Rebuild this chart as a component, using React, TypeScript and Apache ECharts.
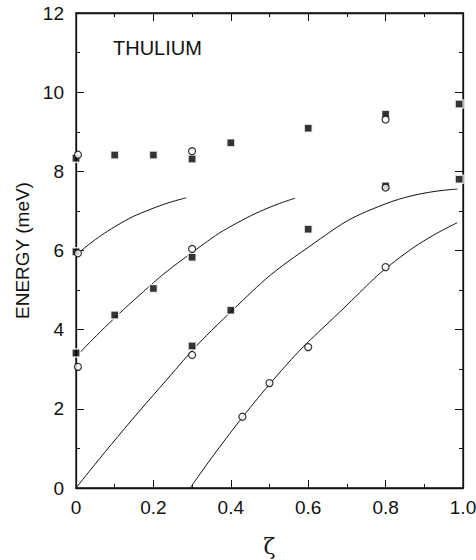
import React, { useEffect, useRef } from "react";
import * as echarts from "echarts";

// Measured points (filled squares)
const squarePoints: number[][] = [
  [0, 8.33], [0.1, 8.41], [0.2, 8.41], [0.3, 8.31], [0.4, 8.72], [0.6, 9.09], [0.8, 9.44], [0.99, 9.7],
  [0, 5.97], [0.3, 5.83], [0.6, 6.54], [0.8, 7.63], [0.99, 7.8],
  [0, 3.41], [0.1, 4.37], [0.2, 5.04], [0.3, 3.59], [0.4, 4.49],
];

// Measured points (open circles)
const circlePoints: number[][] = [
  [0.005, 8.42], [0.3, 8.51], [0.8, 9.31],
  [0.005, 5.93], [0.3, 6.04], [0.8, 7.59],
  [0.005, 3.06], [0.3, 3.36], [0.43, 1.8], [0.5, 2.65], [0.6, 3.56], [0.8, 5.58],
];

// Theoretical dispersion curves
const curve1: number[][] = [[0.01, 5.97], [0.1, 6.6], [0.2, 7.07], [0.285, 7.33]];
const curve2: number[][] = [[0.01, 3.42], [0.15, 4.75], [0.3, 5.95], [0.44, 6.82], [0.566, 7.32]];
const curve3: number[][] = [[0, 0], [0.2, 2.35], [0.4, 4.45], [0.6, 6.08], [0.8, 7.18], [0.985, 7.55]];
const curve4: number[][] = [[0.295, 0], [0.5, 2.62], [0.7, 4.62], [0.85, 5.92], [0.985, 6.7]];

const curves = [curve1, curve2, curve3, curve4];

const FONT = "Liberation Sans, Arial, Helvetica, sans-serif";

export default function App() {
  const ref = useRef<HTMLDivElement>(null);
  useEffect(() => {
    if (!ref.current) return;
    const chart = echarts.init(ref.current, null, { renderer: "svg" });
    const mkAxisLine = () => ({ show: true, onZero: false, lineStyle: { color: "#111", width: 1.3 } });
    const mkTick = () => ({ show: true, inside: true, length: 8, lineStyle: { color: "#111", width: 1 } });
    const mkMinor = () => ({ show: true, splitNumber: 2, length: 4, lineStyle: { color: "#111", width: 1 } });
    const xCommon = () => ({
      type: "value" as const,
      min: 0,
      max: 1,
      interval: 0.2,
      axisLine: mkAxisLine(),
      axisTick: mkTick(),
      minorTick: mkMinor(),
      splitLine: { show: false },
      minorSplitLine: { show: false },
    });
    const yCommon = () => ({
      type: "value" as const,
      min: 0,
      max: 12,
      interval: 2,
      axisLine: mkAxisLine(),
      axisTick: mkTick(),
      minorTick: mkMinor(),
      splitLine: { show: false },
      minorSplitLine: { show: false },
    });
    chart.setOption({
      animation: false,
      backgroundColor: "#fff",
      grid: {
        left: 76,
        right: 13,
        top: 13,
        bottom: 72,
        containLabel: false,
        outerBoundsMode: "none",
        show: true,
        borderColor: "#111",
        borderWidth: 1.3,
        backgroundColor: "transparent",
      },
      xAxis: [
        {
          ...xCommon(),
          position: "bottom",
          name: "ζ",
          nameLocation: "middle",
          nameGap: 47,
          nameTextStyle: { fontFamily: "DejaVu Serif, serif", fontSize: 22, color: "#111" },
          axisLabel: {
            color: "#111",
            fontFamily: FONT,
            fontSize: 19,
            margin: 10,
            formatter: (v: number) => (v === 0 ? "0" : v.toFixed(1)),
          },
        },
        { ...xCommon(), position: "top", axisLabel: { show: false } },
      ],
      yAxis: [
        {
          ...yCommon(),
          position: "left",
          name: "ENERGY (meV)",
          nameLocation: "middle",
          nameGap: 44,
          nameTextStyle: { fontFamily: FONT, fontSize: 19, color: "#111" },
          axisLabel: { color: "#111", fontFamily: FONT, fontSize: 19, margin: 12 },
        },
        { ...yCommon(), position: "right", axisLabel: { show: false } },
      ],
      graphic: [
        {
          type: "text",
          left: 113,
          top: 38,
          style: { text: "THULIUM", fontFamily: FONT, fontSize: 20, fill: "#111" },
        },
      ],
      series: [
        ...curves.map((c) => ({
          type: "line",
          data: c,
          smooth: 0.5,
          showSymbol: false,
          symbol: "none",
          lineStyle: { color: "#111", width: 1 },
          silent: true,
        })),
        {
          type: "scatter",
          data: squarePoints,
          symbol: "rect",
          symbolSize: 8,
          clip: false,
          itemStyle: { color: "#000", borderColor: "#fff", borderWidth: 1.5 },
          z: 3,
        },
        {
          type: "scatter",
          data: circlePoints,
          symbol: "circle",
          symbolSize: 7,
          clip: false,
          itemStyle: { color: "#fff", borderColor: "#000", borderWidth: 1.2 },
          z: 4,
        },
      ],
    });
    return () => chart.dispose();
  }, []);
  return (
    <div
      ref={ref}
      style={{ position: "absolute", left: 0, top: 0, width: 476, height: 560, background: "#fff" }}
    />
  );
}
